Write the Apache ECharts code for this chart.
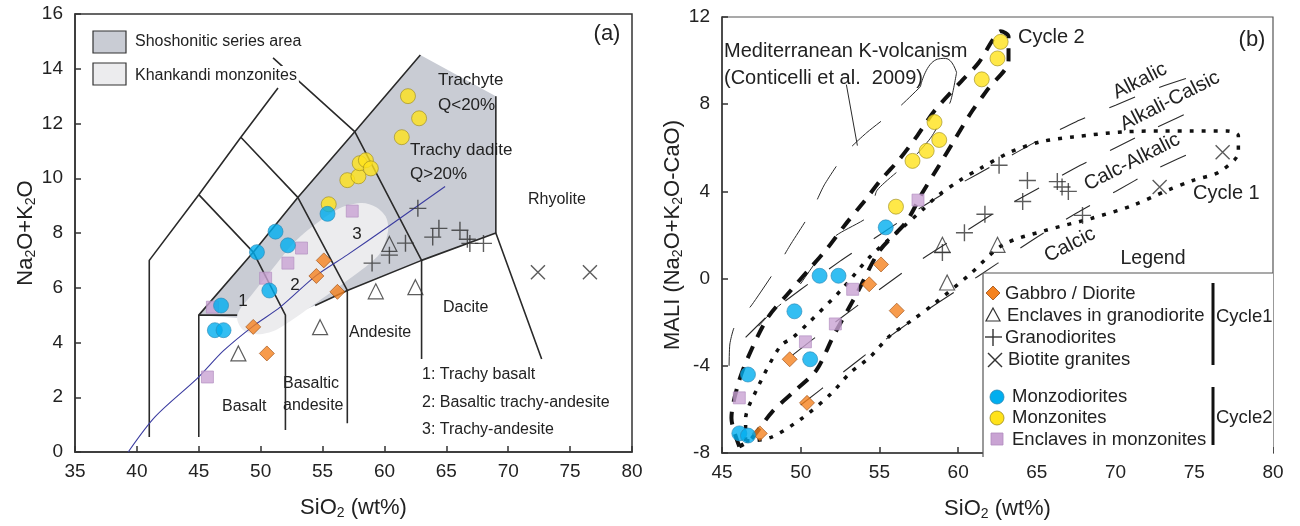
<!DOCTYPE html>
<html>
<head>
<meta charset="utf-8">
<script src="https://cdn.jsdelivr.net/npm/echarts@6/dist/echarts.min.js"></script>
<style>
  html, body { margin: 0; padding: 0; background: #fff; }
  #chart { width: 1300px; height: 526px; }
</style>
</head>
<body>
<div id="chart"></div>
<script>
// ---------- (a) TAS diagram: SiO2 vs Na2O+K2O ----------
const tasGabbro = [[49.4, 4.57], [50.5, 3.6], [55.1, 7.0], [54.5, 6.43], [56.2, 5.85]];
const tasEnclGrd = [[48.2, 3.6], [54.8, 4.56], [59.3, 5.87], [62.5, 6.02], [60.4, 7.6]];
const tasGranod = [[62.7, 8.9], [64.4, 8.17], [63.9, 7.85], [66.1, 8.1], [66.7, 7.77], [66.9, 7.62],
  [68.0, 7.62], [61.7, 7.63], [60.4, 7.19], [59.0, 6.9]];
const tasBiotite = [[72.4, 6.57], [76.6, 6.57]];
const tasMonzodio = [[46.8, 5.35], [46.3, 4.45], [47.0, 4.45], [50.7, 5.9], [49.7, 7.3], [52.2, 7.55],
  [51.2, 8.05], [55.4, 8.7]];
const tasMonzo = [[55.5, 9.05], [57.0, 9.93], [57.9, 10.07], [58.0, 10.55], [58.5, 10.66], [58.9, 10.36],
  [61.9, 13.0], [62.8, 12.19], [61.4, 11.5]];
const tasEnclMz = [[45.7, 2.74], [46.1, 5.29], [50.4, 6.35], [52.2, 6.9], [53.3, 7.45], [57.4, 8.8]];

// field boundaries
const tasLines = [
  [[41, 0.55], [41, 7], [45, 9.4], [48.4, 11.5], [51.4, 13.3]],
  [[45, 0.55], [45, 5], [49.4, 7.3], [53, 9.3], [57.6, 11.7], [62.9, 14.5]],
  [[52, 0.8], [52, 5], [49.4, 7.3], [45, 9.4]],
  [[57, 1.05], [57, 5.9], [53, 9.3], [48.4, 11.5]],
  [[63, 3.4], [63, 7], [57.6, 11.7], [51, 14.4]],
  [[45, 5], [48.1, 5]],
  [[69, 13], [69, 8]],
  [[54.4, 5.35], [57, 5.9], [63, 7], [69, 8], [72.7, 3.4]]
];
const shoshoniteArea = [[45, 5], [49.4, 7.3], [53, 9.3], [57.6, 11.7], [62.9, 14.5], [69, 13], [69, 8],
  [63, 7], [57, 5.9], [54.4, 5.35], [52, 4.9], [48, 4.9]];
const khankandiArea = [[48.1, 4.85], [48.6, 4.45], [49.8, 4.3], [51.2, 4.45], [52.8, 4.9], [54.5, 5.45],
  [56.5, 6.1], [58.3, 6.7], [59.7, 7.3], [60.3, 8.1], [60.1, 8.6], [59.3, 8.95], [58.2, 9.1], [56.6, 8.95],
  [54.8, 8.45], [52.8, 7.7], [50.8, 6.6], [49.2, 5.7], [48.3, 5.2]];
const alkSubalkLine = [[39.3, 0], [41.5, 1.3], [44.9, 2.7], [47, 3.7], [49.4, 4.6], [51.6, 5.3],
  [54.5, 6.45], [57, 7.2], [60.2, 8.2], [64.9, 9.7]];

// ---------- (b) MALI diagram: SiO2 vs Na2O+K2O-CaO ----------
const maliGabbro = [[47.4, -7.1], [49.3, -3.7], [50.4, -5.7], [54.35, -0.26], [55.1, 0.65], [56.1, -1.47]];
const maliEnclGrd = [[59.3, -0.18], [59.0, 1.55], [62.5, 1.55]];
const maliGranod = [[60.4, 2.1], [61.7, 2.95], [62.6, 5.2], [64.4, 4.5], [64.1, 3.54], [66.3, 4.45],
  [66.6, 4.2], [67.0, 4.0], [67.9, 2.9], [59.0, 1.2]];
const maliBiotite = [[76.8, 5.8], [72.8, 4.2]];
const maliMonzodio = [[46.1, -7.1], [46.65, -7.2], [46.65, -4.4], [49.6, -1.5], [50.6, -3.7],
  [51.2, 0.13], [52.4, 0.13], [55.4, 2.35]];
const maliMonzo = [[56.05, 3.3], [57.1, 5.4], [58.0, 5.86], [58.8, 6.36], [58.5, 7.18], [61.5, 9.14],
  [62.5, 10.1], [62.7, 10.86]];
const maliEnclMz = [[46.1, -5.47], [50.3, -2.9], [52.2, -2.08], [53.3, -0.49], [57.45, 3.6]];

const alkalicLine = [[46.5, -2.7], [48.2, -1.5], [50, -0.5], [52.5, 0.8], [55, 2.0], [57.5, 3.2], [60, 4.3],
  [62.5, 5.3], [65, 6.3], [67.5, 7.2], [70, 7.95], [72.5, 8.7], [75, 9.3]];
const alkaliCalcicLine = [[49.5, -3.5], [52, -2.1], [55, -0.5], [57.5, 0.8], [60, 1.95], [62.5, 3.1],
  [65, 4.1], [67.5, 5.1], [70, 6.0], [72.5, 6.9], [75.5, 7.9]];
const calcAlkalicLine = [[50, -5.8], [52.5, -4.4], [55, -3.0], [57.5, -1.7], [60, -0.5], [62.5, 0.7],
  [65, 1.9], [67.5, 3.0], [70, 4.0], [72.5, 5.0], [75.5, 6.0]];
const mediterraneanField = [[45.45, -4.0], [45.5, -3.0], [45.8, -2.2], [46.9, -1.2], [48.4, 0.4], [49.3, 1.5],
  [50.7, 3.1], [51.5, 4.3], [52.9, 5.8], [54.2, 6.7], [56.3, 7.9], [57.6, 8.8]];
const mediterraneanRight = [[59.9, 9.45], [59.5, 8.1], [58.3, 6.5], [57.1, 5.5], [54.85, 4.05], [54.4, 2.9],
  [52.2, 1.95], [51, 0.8], [49.5, -0.7], [48.2, -1.5], [46.3, -3.0]];
const leaderHook = [[57.6, 8.8], [58.4, 9.95], [59.2, 10.1], [59.9, 9.45]];
const leaderStraight = [[52.9, 8.9], [53.6, 6.1]];
const cycle2Envelope = [[46.1, -7.7], [45.6, -6.4], [46.0, -4.9], [46.6, -3.7], [47.9, -1.8], [49.3, -0.6],
  [50.5, 0.4], [51.7, 1.4], [52.8, 2.45], [54.1, 3.6], [55.0, 4.45], [56.3, 5.5], [57.4, 6.55], [58.5, 7.7],
  [60.2, 9.05], [61.3, 9.9], [62.2, 10.95], [62.7, 11.35], [63.2, 11.1], [63.2, 10.0], [61.9, 8.7],
  [60.9, 7.7], [59.8, 6.4], [58.8, 5.2], [57.7, 3.9], [56.7, 2.6], [55.0, 1.27], [53.6, -0.64],
  [52.1, -2.6], [51.0, -4.2], [49.7, -5.1], [48.2, -6.1], [46.8, -7.4], [46.1, -7.7]];
const cycle1Envelope = [[46.5, -7.45], [48.05, -7.3], [50, -6.45], [51.9, -5.3], [53.1, -4.35], [54.4, -3.6],
  [55.7, -2.6], [57.1, -1.9], [58.4, -1.2], [60.75, 0.2], [62.85, 1.55], [65.5, 2.2], [68.5, 2.77],
  [71.1, 3.36], [73.3, 4.05], [74.9, 4.5], [76.6, 4.9], [77.8, 5.8], [77.8, 6.55], [77.1, 6.77],
  [74.9, 6.77], [72.8, 6.77], [70.5, 6.73], [67.3, 6.5], [65.2, 6.27], [63.3, 5.8], [61.4, 5.05],
  [60.1, 4.5], [58.7, 3.8], [57.8, 3.2], [56.4, 2.3], [54.4, 1.0], [52.6, -0.5], [50.4, -2.1],
  [49.5, -2.7], [48.7, -3.1], [47.2, -5.1], [46.5, -6.45], [46.5, -7.45]];

// ---------- styles ----------
const F = '"Liberation Sans", Arial, sans-serif';
const INK = '#2a2a2a';
const PLUS = 'path://M0,8H16M8,0V16';
const CROSS = 'path://M0,0L14,14M14,0L0,14';

const sym = {
  gabbro: { symbol: 'diamond', symbolSize: 15, itemStyle: { color: '#f5821f', borderColor: '#9a4a10', borderWidth: 0.8 } },
  enclGrd: { symbol: 'triangle', symbolSize: 15, itemStyle: { color: 'rgba(0,0,0,0)', borderColor: '#333', borderWidth: 1.2 } },
  granod: { symbol: PLUS, symbolSize: 17, itemStyle: { color: 'none', borderColor: '#333', borderWidth: 1.4 } },
  biotite: { symbol: CROSS, symbolSize: 14, itemStyle: { color: 'none', borderColor: '#333', borderWidth: 1.4 } },
  monzodio: { symbol: 'circle', symbolSize: 15, itemStyle: { color: '#00aeef', borderColor: '#2a87b5', borderWidth: 0.8 } },
  monzo: { symbol: 'circle', symbolSize: 15, itemStyle: { color: '#ffe21a', borderColor: '#9c8a20', borderWidth: 0.8 } },
  enclMz: { symbol: 'rect', symbolSize: 12, itemStyle: { color: '#c9a3d3', borderColor: '#b08cbe', borderWidth: 0.8 } }
};

function scatter(data, kind, gi) {
  return Object.assign({ type: 'scatter', xAxisIndex: gi, yAxisIndex: gi, data: data, z: 6, silent: true }, sym[kind]);
}
function line(data, gi, style, z, smooth) {
  return {
    type: 'line', xAxisIndex: gi, yAxisIndex: gi, data: data, symbol: 'none', silent: true,
    smooth: smooth || false, z: z || 4, lineStyle: Object.assign({ color: INK, width: 1.5 }, style)
  };
}
function polygon(data, gi, fill, z, smooth) {
  return {
    type: 'custom', xAxisIndex: gi, yAxisIndex: gi, data: data, z: z, silent: true,
    renderItem: function (params, api) {
      if (params.dataIndex !== 0) return;
      return {
        type: 'polygon',
        shape: { points: data.map(function (p) { return api.coord(p); }), smooth: smooth || 0 },
        style: { fill: fill }
      };
    }
  };
}
function closed(arr) { return arr.concat([arr[0]]); }

function axisX(gi, min, max) {
  return {
    gridIndex: gi, type: 'value', min: min, max: max, interval: 5,
    axisLine: { onZero: false, lineStyle: { color: '#333', width: 1.5 } },
    axisTick: { inside: true, length: 6, lineStyle: { color: '#333', width: 1.5 } },
    splitLine: { show: false },
    axisLabel: { fontFamily: F, fontSize: 19, color: '#222', margin: 10 },
    name: 'SiO{s|2} (wt%)', nameLocation: 'middle', nameGap: 44,
    nameTextStyle: { fontFamily: F, fontSize: 22, color: '#222', rich: { s: { fontFamily: F, fontSize: 14, color: '#222', padding: [10, 0, 0, 0] } } }
  };
}
function axisY(gi, min, max, interval, name, gap) {
  return {
    gridIndex: gi, type: 'value', min: min, max: max, interval: interval,
    axisLine: { onZero: false, lineStyle: { color: '#333', width: 1.5 } },
    axisTick: { inside: true, length: 6, lineStyle: { color: '#333', width: 1.5 } },
    splitLine: { show: false },
    axisLabel: { fontFamily: F, fontSize: 19, color: '#222', margin: 12 },
    name: name, nameLocation: 'middle', nameGap: gap, nameRotate: 90,
    nameTextStyle: { fontFamily: F, fontSize: 22, color: '#222', rich: { s: { fontFamily: F, fontSize: 14, color: '#222', padding: [10, 0, 0, 0] } } }
  };
}

function txt(text, x, y, size, opts) {
  return Object.assign({
    type: 'text', x: x, y: y, z: 100,
    style: Object.assign({ text: text, fontFamily: F, fontSize: size, fill: '#222', align: 'left', verticalAlign: 'middle' }, (opts && opts.style) || {})
  }, opts && opts.rotation ? { rotation: opts.rotation } : {});
}
const R27 = 27 * Math.PI / 180;

const graphics = [
  // legend (a)
  { type: 'rect', shape: { x: 93, y: 31, width: 33, height: 22 }, style: { fill: '#c9ccd4', stroke: '#333', lineWidth: 1.2 }, z: 100 },
  { type: 'rect', shape: { x: 93, y: 63, width: 33, height: 22 }, style: { fill: '#ececee', stroke: '#333', lineWidth: 1.2 }, z: 100 },
  txt('Shoshonitic series area', 135, 42, 16, { style: { backgroundColor: '#fff' } }),
  txt('Khankandi monzonites', 135, 76, 16, { style: { backgroundColor: '#fff', padding: [2, 2, 2, 0] } }),
  txt('(a)', 607, 34, 22, { style: { align: 'center' } }),
  txt('Trachyte', 438, 80, 17),
  txt('Q<20%', 438, 105, 17),
  txt('Trachy dadite', 410, 150, 17),
  txt('Q>20%', 410, 174, 17),
  txt('Rhyolite', 528, 200, 16),
  txt('Dacite', 443, 308, 16),
  txt('Andesite', 349, 333, 16),
  txt('Basaltic', 283, 384, 16),
  txt('andesite', 283, 406, 16),
  txt('Basalt', 222, 407, 16),
  txt('1', 243, 301, 17, { style: { align: 'center' } }),
  txt('2', 295, 285, 17, { style: { align: 'center' } }),
  txt('3', 357, 234, 17, { style: { align: 'center' } }),
  txt('1: Trachy basalt', 422, 375, 16),
  txt('2: Basaltic trachy-andesite', 422, 403, 16),
  txt('3: Trachy-andesite', 422, 430, 16),

  // annotations (b)
  txt('Mediterranean K-volcanism', 724, 51, 20),
  txt('(Conticelli et al.  2009)', 724, 78, 20),
  txt('Cycle 2', 1018, 37, 20),
  txt('(b)', 1252, 40, 22, { style: { align: 'center' } }),
  txt('Alkalic', 1140, 81, 20, { rotation: R27, style: { align: 'center' } }),
  txt('Alkali-Calsic', 1170, 101, 20, { rotation: R27, style: { align: 'center' } }),
  txt('Calc-Alkalic', 1132, 162, 20, { rotation: R27, style: { align: 'center' } }),
  txt('Calcic', 1070, 245, 20, { rotation: R27, style: { align: 'center' } }),
  txt('Cycle 1', 1193, 193, 20),

  // legend (b)
  { type: 'rect', shape: { x: 983, y: 273, width: 290, height: 184 }, style: { fill: '#fff' }, z: 90 },
  { type: 'line', shape: { x1: 983, y1: 273, x2: 1273, y2: 273 }, style: { stroke: '#555', lineWidth: 1.2 }, z: 100 },
  { type: 'line', shape: { x1: 983, y1: 273, x2: 983, y2: 457 }, style: { stroke: '#555', lineWidth: 1.2 }, z: 100 },
  txt('Legend', 1153, 259, 19.5, { style: { align: 'center' } }),
  { type: 'polygon', shape: { points: [[993, 286], [1000, 293], [993, 300], [986, 293]] }, style: { fill: '#f5821f', stroke: '#9a4a10', lineWidth: 0.8 }, z: 100 },
  { type: 'polygon', shape: { points: [[993, 308], [1000, 321], [986, 321]] }, style: { fill: 'none', stroke: '#333', lineWidth: 1.2 }, z: 100 },
  { type: 'line', shape: { x1: 985, y1: 337, x2: 1002, y2: 337 }, style: { stroke: '#333', lineWidth: 1.4 }, z: 100 },
  { type: 'line', shape: { x1: 993, y1: 329, x2: 993, y2: 346 }, style: { stroke: '#333', lineWidth: 1.4 }, z: 100 },
  { type: 'line', shape: { x1: 988, y1: 353, x2: 1002, y2: 367 }, style: { stroke: '#333', lineWidth: 1.4 }, z: 100 },
  { type: 'line', shape: { x1: 1002, y1: 353, x2: 988, y2: 367 }, style: { stroke: '#333', lineWidth: 1.4 }, z: 100 },
  { type: 'circle', shape: { cx: 997, cy: 397, r: 7 }, style: { fill: '#00aeef', stroke: '#2a87b5', lineWidth: 0.8 }, z: 100 },
  { type: 'circle', shape: { cx: 997, cy: 418, r: 7 }, style: { fill: '#ffe21a', stroke: '#9c8a20', lineWidth: 0.8 }, z: 100 },
  { type: 'rect', shape: { x: 991, y: 433, width: 12, height: 12 }, style: { fill: '#c9a3d3', stroke: '#b08cbe', lineWidth: 0.8 }, z: 100 },
  txt('Gabbro / Diorite', 1005, 294, 18.5),
  txt('Enclaves in granodiorite', 1007, 316, 18.5),
  txt('Granodiorites', 1005, 338, 18.5),
  txt('Biotite granites', 1008, 360, 18.5),
  txt('Monzodiorites', 1012, 397, 18.5),
  txt('Monzonites', 1012, 418, 18.5),
  txt('Enclaves in monzonites', 1012, 440, 18.5),
  { type: 'line', shape: { x1: 1213, y1: 283, x2: 1213, y2: 365 }, style: { stroke: '#111', lineWidth: 3 }, z: 100 },
  { type: 'line', shape: { x1: 1213, y1: 387, x2: 1213, y2: 445 }, style: { stroke: '#111', lineWidth: 3 }, z: 100 },
  txt('Cycle1', 1216, 317, 18.5),
  txt('Cycle2', 1216, 418, 18.5)
];

const series = [];
// (a)
series.push(polygon(shoshoniteArea, 0, '#c9ccd4', 1, 0));
series.push(polygon(khankandiArea, 0, '#ececee', 2, 0.3));
tasLines.forEach(function (l) { series.push(line(l, 0, { width: 1.6 }, 3)); });
series.push(line(alkSubalkLine, 0, { color: '#3b3ca0', width: 1.1 }, 4, 0.3));
series.push(scatter(tasEnclMz, 'enclMz', 0));
series.push(scatter(tasGabbro, 'gabbro', 0));
series.push(scatter(tasEnclGrd, 'enclGrd', 0));
series.push(scatter(tasGranod, 'granod', 0));
series.push(scatter(tasBiotite, 'biotite', 0));
series.push(scatter(tasMonzo, 'monzo', 0));
series.push(scatter(tasMonzodio, 'monzodio', 0));
// (b)
const thinDash = { width: 1.1, type: [28, 26] };
series.push(line(alkalicLine, 1, thinDash, 3, 0.2));
series.push(line(alkaliCalcicLine, 1, thinDash, 3, 0.2));
series.push(line(calcAlkalicLine, 1, thinDash, 3, 0.2));
series.push(line(mediterraneanField, 1, { width: 1, type: [38, 26] }, 3, 0.2));
series.push(line(mediterraneanRight, 1, { width: 1, type: [32, 28] }, 3, 0.2));
series.push(line(leaderHook, 1, { width: 1 }, 3, 0.5));
series.push(line(leaderStraight, 1, { width: 1 }, 3));
series.push(line(cycle2Envelope, 1, { width: 4, type: [13, 10], cap: 'butt', color: '#111' }, 4, 0.3));
series.push(line(closed(cycle1Envelope), 1, { width: 3.5, type: [4, 8], cap: 'butt', color: '#111' }, 4, 0.3));
series.push(scatter(maliEnclMz, 'enclMz', 1));
series.push(scatter(maliGabbro, 'gabbro', 1));
series.push(scatter(maliEnclGrd, 'enclGrd', 1));
series.push(scatter(maliGranod, 'granod', 1));
series.push(scatter(maliBiotite, 'biotite', 1));
series.push(scatter(maliMonzo, 'monzo', 1));
series.push(scatter(maliMonzodio, 'monzodio', 1));

const chart = echarts.init(document.getElementById('chart'));
chart.setOption({
  animation: false,
  backgroundColor: '#fff',
  grid: [
    { left: 75, right: 668, top: 14, bottom: 74, show: true, borderColor: '#333', borderWidth: 1.5 },
    { left: 722, right: 27, top: 17, bottom: 69, show: true, borderColor: '#555', borderWidth: 1.2 }
  ],
  xAxis: [axisX(0, 35, 80), axisX(1, 45, 80)],
  yAxis: [
    axisY(0, 0, 16, 2, 'Na{s|2}O+K{s|2}O', 36),
    axisY(1, -8, 12, 4, 'MALI (Na{s|2}O+K{s|2}O-CaO)', 34)
  ],
  series: series,
  graphic: graphics
});
</script>
</body>
</html>
